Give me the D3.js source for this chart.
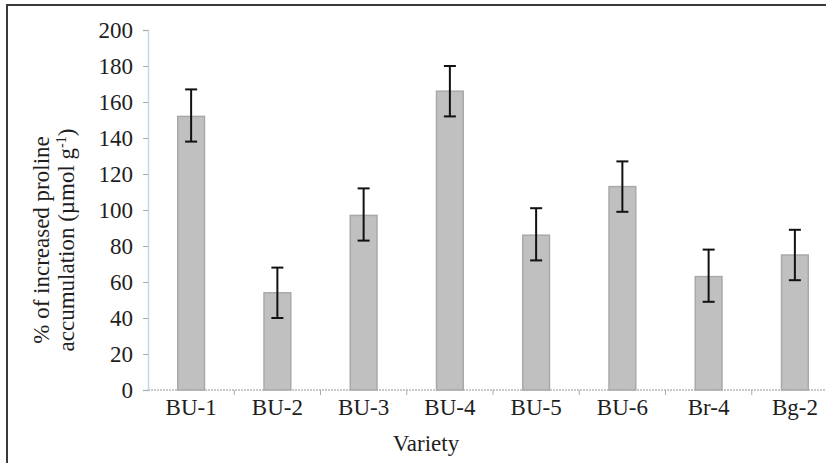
<!DOCTYPE html>
<html>
<head>
<meta charset="utf-8">
<script src="https://cdn.jsdelivr.net/npm/d3@7/dist/d3.min.js"></script>
<style>
    body { margin: 0; background: #fff; }
</style>
</head>
<body>
<div id="chart"></div>
<script>
var varieties = ["BU-1", "BU-2", "BU-3", "BU-4", "BU-5", "BU-6", "Br-4", "Bg-2"];
var proline = [152, 54, 97, 166, 86, 113, 63, 75];
var errLow = [138, 40, 83, 152, 72, 99, 49, 61];
var errHigh = [167, 68, 112, 180, 101, 127, 78, 89];
var yTicks = [0, 20, 40, 60, 80, 100, 120, 140, 160, 180, 200];

var chart = chart || {};
chart.font = "'Liberation Serif', 'Times New Roman', Times, serif";

chart.draw = function () {
    const width = 826;
    const height = 463;
    const margin = {left: 148, top: 30, bottom: 390};
    const plotRight = 838;
    const fs = "23px";

    var svg = d3.select("#chart")
        .append("svg")
        .attr("width", width)
        .attr("height", height)
        .attr("font-family", chart.font);

    // outer frame (right / bottom fall outside the picture)
    svg.append("rect")
        .attr("x", 7).attr("y", 5)
        .attr("width", 900).attr("height", 600)
        .attr("fill", "none")
        .attr("stroke", "#3a3a3a")
        .attr("stroke-width", 2);

    const x = d3.scaleBand()
        .domain(varieties)
        .range([margin.left, plotRight])
        .paddingInner(0.69)
        .paddingOuter(0.345);

    const y = d3.scaleLinear()
        .domain([0, 200])
        .range([margin.bottom, margin.top]);

    // y axis
    const yAxis = svg.append("g")
        .attr("transform", `translate(${margin.left},0)`)
        .call(d3.axisLeft(y).tickValues(yTicks).tickSize(5).tickPadding(10));
    yAxis.attr("font-family", chart.font).attr("font-size", 23);
    yAxis.select(".domain").attr("stroke", "#c5d5ea").attr("stroke-width", 1.5);
    yAxis.selectAll(".tick line").attr("stroke", "#aaaaaa");
    yAxis.selectAll("text")
        .style("font-family", chart.font)
        .style("font-size", fs)
        .attr("fill", "#1e1e1e");

    // x axis, ticks between categories
    const bounds = varieties.map((v) => x(v) - x.step() * x.paddingInner() / 2);
    svg.append("line")
        .attr("x1", margin.left).attr("x2", plotRight)
        .attr("y1", y(0)).attr("y2", y(0))
        .attr("stroke", "#b8b8b8")
        .attr("stroke-width", 1.5)
        .attr("stroke-dasharray", "2,1");
    svg.selectAll(".xtick")
        .data(bounds.slice(1))
        .enter()
        .append("line")
        .attr("class", "xtick")
        .attr("x1", (d) => d).attr("x2", (d) => d)
        .attr("y1", y(0)).attr("y2", y(0) + 5)
        .attr("stroke", "#aaaaaa");
    svg.selectAll(".xlabel")
        .data(varieties)
        .enter()
        .append("text")
        .attr("class", "xlabel")
        .attr("x", (d) => x(d) + x.bandwidth() / 2)
        .attr("y", 415)
        .attr("text-anchor", "middle")
        .attr("fill", "#1e1e1e")
        .style("font-family", chart.font)
        .style("font-size", fs)
        .text((d) => d);

    // bars
    svg.selectAll(".bar")
        .data(proline)
        .enter()
        .append("rect")
        .attr("class", "bar")
        .attr("x", (d, i) => x(varieties[i]))
        .attr("y", (d) => y(d))
        .attr("width", x.bandwidth())
        .attr("height", (d) => y(0) - y(d))
        .attr("fill", "#c0c0c0")
        .attr("stroke", "#a9a9a9")
        .attr("stroke-width", 1.5);

    // error bars
    const capW = 6;
    const errs = varieties.map((v, i) => ({cx: x(v) + x.bandwidth() / 2, lo: errLow[i], hi: errHigh[i]}));
    const eg = svg.selectAll(".err")
        .data(errs)
        .enter()
        .append("g")
        .attr("class", "err")
        .attr("stroke", "#111")
        .attr("stroke-width", 2);
    eg.append("line")
        .attr("x1", (d) => d.cx).attr("x2", (d) => d.cx)
        .attr("y1", (d) => y(d.lo)).attr("y2", (d) => y(d.hi));
    eg.append("line")
        .attr("x1", (d) => d.cx - capW).attr("x2", (d) => d.cx + capW)
        .attr("y1", (d) => y(d.hi)).attr("y2", (d) => y(d.hi));
    eg.append("line")
        .attr("x1", (d) => d.cx - capW).attr("x2", (d) => d.cx + capW)
        .attr("y1", (d) => y(d.lo)).attr("y2", (d) => y(d.lo));

    // axis titles
    svg.append("text")
        .attr("x", 426).attr("y", 451)
        .attr("text-anchor", "middle")
        .attr("fill", "#1e1e1e")
        .style("font-family", chart.font)
        .style("font-size", fs)
        .text("Variety");

    const yt = svg.append("text")
        .attr("transform", "translate(49,240) rotate(-90)")
        .attr("text-anchor", "middle")
        .attr("fill", "#1e1e1e")
        .style("font-family", chart.font)
        .style("font-size", fs);
    yt.append("tspan").attr("x", 0).attr("dy", 0).text("% of increased proline");
    const l2 = yt.append("tspan").attr("x", 0).attr("dy", 25);
    l2.append("tspan").text("accumulation (\u00b5mol g");
    l2.append("tspan").attr("dy", -8).style("font-size", "14px").text("-1");
    l2.append("tspan").attr("dy", 8).text(")");
};

chart.draw();
</script>
</body>
</html>
